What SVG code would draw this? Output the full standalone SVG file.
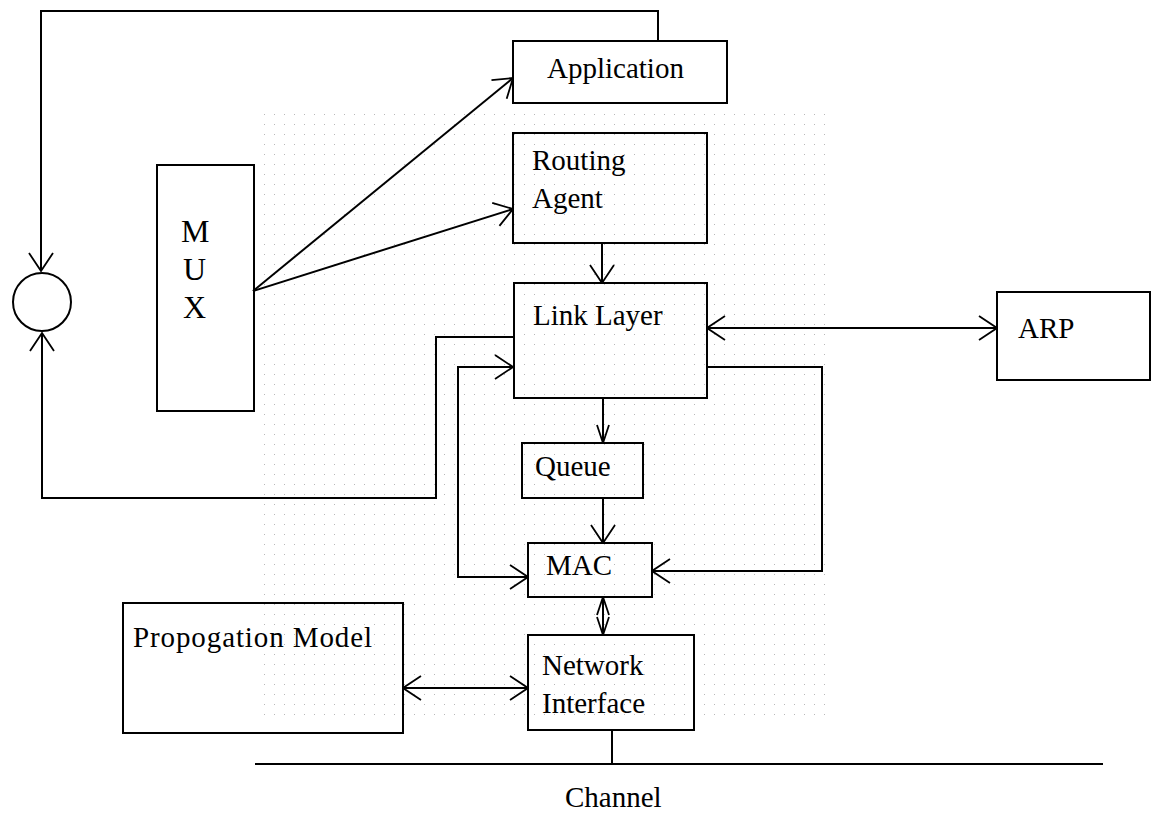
<svg xmlns="http://www.w3.org/2000/svg" width="1152" height="815" viewBox="0 0 1152 815">
  <style>
    .box { fill: none; stroke: #000; stroke-width: 2; }
    .ln { fill: none; stroke: #000; stroke-width: 2; }
    .lbl { font-family: "Liberation Serif", "Times New Roman", serif; font-size: 29px; fill: #000; }
    .mux { font-family: "Liberation Serif", "Times New Roman", serif; font-size: 32px; fill: #000; }
  </style>
  <defs>
    <marker id="arr" viewBox="0 0 20 26" refX="19" refY="13" markerWidth="20" markerHeight="26" orient="auto-start-reverse" markerUnits="userSpaceOnUse">
      <path d="M1,1 L19,13 L1,25" fill="none" stroke="#000" stroke-width="1.8"/>
    </marker>
    <marker id="arrn" viewBox="0 0 20 14" refX="19" refY="7" markerWidth="20" markerHeight="14" orient="auto-start-reverse" markerUnits="userSpaceOnUse">
      <path d="M1,1 L19,7 L1,13" fill="none" stroke="#000" stroke-width="1.8"/>
    </marker>
    <pattern id="dots" width="10" height="10" patternUnits="userSpaceOnUse">
      <rect x="4" y="4" width="1" height="1" fill="#999"/>
    </pattern>
  </defs>
  <rect x="0" y="0" width="1152" height="815" fill="#fff"/>
  <rect x="255" y="110" width="575" height="610" fill="url(#dots)" opacity="0.7"/>

  <g id="connectors">
    <path class="ln" d="M658,41 L658,11 L41,11 L41,271" marker-end="url(#arr)"/>
    <path class="ln" d="M513,337 L436,337 L436,498 L42,498 L42,333" marker-end="url(#arr)"/>
    <path class="ln" d="M253,291 L513,78" marker-end="url(#arr)"/>
    <path class="ln" d="M253,291 L513,209" marker-end="url(#arr)"/>
    <path class="ln" d="M602,243 L602,283" marker-end="url(#arr)"/>
    <path class="ln" d="M707,328 L997,328" marker-start="url(#arr)" marker-end="url(#arr)"/>
    <path class="ln" d="M603,398 L603,443" marker-end="url(#arrn)"/>
    <path class="ln" d="M603,498 L603,543" marker-end="url(#arr)"/>
    <path class="ln" d="M513,367 L458,367 L458,577 L528,577" marker-start="url(#arr)" marker-end="url(#arr)"/>
    <path class="ln" d="M707,367 L822,367 L822,571 L652,571" marker-end="url(#arr)"/>
    <path class="ln" d="M603,597 L603,635" marker-start="url(#arrn)" marker-end="url(#arrn)"/>
    <path class="ln" d="M403,688 L528,688" marker-start="url(#arr)" marker-end="url(#arr)"/>
    <path class="ln" d="M612,730 L612,764"/>
  </g>

  <g id="circle">
    <circle cx="42" cy="302" r="29" class="box"/>
  </g>

  <g id="mux">
    <rect x="157" y="165" width="97" height="246" class="box"/>
    <text class="mux" x="181" y="242">M</text>
    <text class="mux" x="183" y="280">U</text>
    <text class="mux" x="183" y="318">X</text>
  </g>

  <g id="application">
    <rect x="513" y="41" width="214" height="62" class="box"/>
    <text class="lbl" x="547" y="78">Application</text>
  </g>

  <g id="routing-agent">
    <rect x="513" y="133" width="194" height="110" class="box"/>
    <text class="lbl" x="532" y="170">Routing</text>
    <text class="lbl" x="532" y="208">Agent</text>
  </g>

  <g id="link-layer">
    <rect x="514" y="283" width="193" height="115" class="box"/>
    <text class="lbl" x="533" y="325">Link Layer</text>
  </g>

  <g id="arp">
    <rect x="997" y="292" width="153" height="88" class="box"/>
    <text class="lbl" x="1018" y="338">ARP</text>
  </g>

  <g id="queue">
    <rect x="522" y="443" width="121" height="55" class="box"/>
    <text class="lbl" x="535" y="476">Queue</text>
  </g>

  <g id="mac">
    <rect x="528" y="543" width="124" height="54" class="box"/>
    <text class="lbl" x="546" y="575">MAC</text>
  </g>

  <g id="network-interface">
    <rect x="528" y="635" width="166" height="95" class="box"/>
    <text class="lbl" x="542" y="675">Network</text>
    <text class="lbl" x="542" y="713">Interface</text>
  </g>

  <g id="propogation-model">
    <rect x="123" y="603" width="280" height="130" class="box"/>
    <text class="lbl" x="133" y="647" textLength="239" lengthAdjust="spacing">Propogation Model</text>
  </g>

  <g id="channel">
    <line x1="255" y1="764" x2="1103" y2="764" class="ln"/>
    <text class="lbl" x="565" y="807">Channel</text>
  </g>
</svg>
